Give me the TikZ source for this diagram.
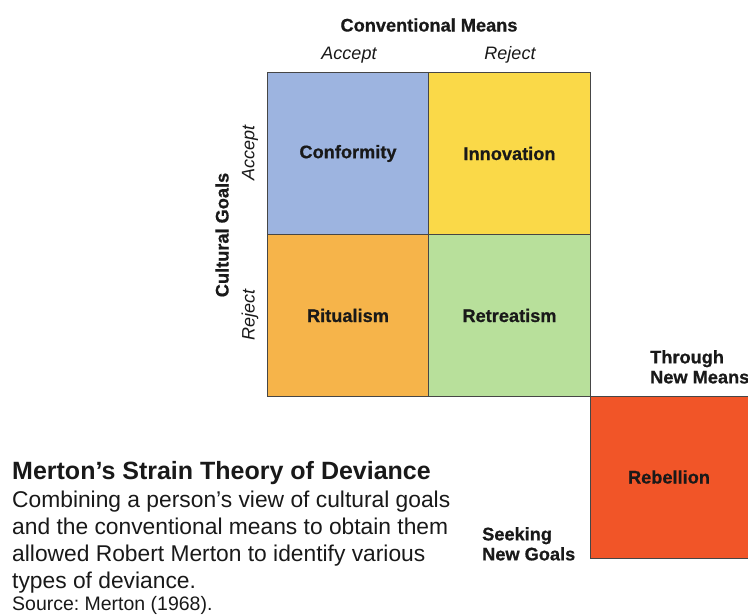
\documentclass[tikz,border=0pt]{standalone}
\usepackage{fontspec}
\setmainfont{Liberation Sans}
\newfontfamily\heavyfont[FakeBold=0.7]{Liberation Sans Bold}
\definecolor{cblue}{RGB}{157,180,224}
\definecolor{cyellow}{RGB}{250,217,72}
\definecolor{corange}{RGB}{246,180,74}
\definecolor{cgreen}{RGB}{184,224,155}
\definecolor{cred}{RGB}{241,85,40}
\definecolor{cborder}{RGB}{70,70,70}
\definecolor{ctext}{RGB}{25,25,25}
\begin{document}
\begin{tikzpicture}[x=1pt,y=-1pt,
  cell/.style={draw=cborder,line width=0.9pt,minimum width=162pt,minimum height=162pt,inner sep=0pt,
    font=\fontsize{18.2}{20}\heavyfont,text=ctext},
  head/.style={font=\fontsize{18.2}{20}\heavyfont,text=ctext},
  sub/.style={font=\fontsize{18}{20}\selectfont\itshape,text=ctext},
  side/.style={font=\fontsize{18.2}{20}\heavyfont,text=ctext,align=left,inner sep=0pt,anchor=north west},
  body/.style={font=\fontsize{22.8}{27}\selectfont,text=ctext,anchor=base west,inner sep=0pt}]
\clip (0,0) rectangle (748,615);
\fill[white] (0,0) rectangle (748,615);
% grid cells
\node[cell,fill=cblue] (conf) at (348,153.5) {Conformity};
\node[cell,fill=cyellow] (inno) at (509.5,153.5) {Innovation};
\node[cell,fill=corange] (ritu) at (348,315.5) {Ritualism};
\node[cell,fill=cgreen] (retr) at (509.5,315.5) {Retreatism};
\node[cell,fill=cred,minimum width=180pt,anchor=west] (rebe) at (590,477) {};
\node[head] (rebt) at (669,477) {Rebellion};
% headings
\node[head] (cm) at (429,25) {Conventional Means};
\node[sub] (ca) at (349,55) {Accept};
\node[sub] (cr) at (510,55) {Reject};
\node[head,rotate=90] (cg) at (222,235) {Cultural Goals};
\node[sub,rotate=90] (ga) at (250,153) {Accept};
\node[sub,rotate=90] (gr) at (250,315) {Reject};
% side labels
\node[side] (tnm) at (650,350) {Through\\New Means};
\node[side] (sng) at (482,527) {Seeking\\New Goals};
% caption
\node[body,font=\fontsize{25}{28}\selectfont\bfseries] (title) at (12,479) {Merton’s Strain Theory of Deviance};
\node[body] (l1) at (12,507) {Combining a person’s view of cultural goals};
\node[body] (l2) at (12,534) {and the conventional means to obtain them};
\node[body] (l3) at (12,561) {allowed Robert Merton to identify various};
\node[body] (l4) at (12,588) {types of deviance.};
\node[body,font=\fontsize{19.5}{22}\selectfont] (src) at (12,610) {Source:\hspace{-2pt} Merton (1968).};
\end{tikzpicture}
\end{document}
